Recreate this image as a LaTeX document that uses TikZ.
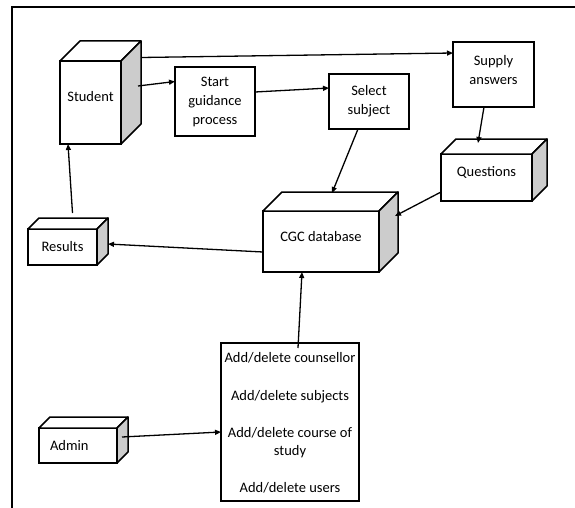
\documentclass[tikz,border=0pt]{standalone}
\usepackage{fontspec}
\setmainfont{Carlito}
\usetikzlibrary{calc,arrows.meta}
\tikzset{
  box/.style={draw, line width=1.5pt, fill=white, inner sep=2pt, outer sep=0pt, align=center, font=\fontsize{14.5}{19}\selectfont},
  lbl/.style={inner sep=0pt, align=center, font=\fontsize{14.5}{19}\selectfont},
  side/.style={draw, line width=1.5pt, fill=gray!40, line join=round},
  topf/.style={draw, line width=1.5pt, fill=white, line join=round},
  arr/.style={line width=1.3pt, -{Triangle[length=6pt,width=5pt]}},
  frame/.style={line width=1.6pt}
}
\newcommand{\cubefaces}[2]{%
  \path[topf] (#1.north west) -- ++(#2,-#2) -- ($(#1.north east)+(#2,-#2)$) -- (#1.north east) -- cycle;
  \path[side] (#1.north east) -- ++(#2,-#2) -- ($(#1.south east)+(#2,-#2)$) -- (#1.south east) -- cycle;
}
\begin{document}
\begin{tikzpicture}[x=1pt,y=-1pt]
\useasboundingbox (0,0) rectangle (575,508);
\fill[white] (0,0) rectangle (575,508);
\coordinate (fl) at (12,508);
\coordinate (ftl) at (12,7);
\coordinate (ftr) at (575,7);
\draw[frame] (fl) -- (ftl) -- (ftr);

% cubes
\node[box, minimum width=61pt, minimum height=83pt, label={[lbl, yshift=5.5pt]center:Student}] (student) at (90.5,102.5) {};
\cubefaces{student}{20}
\node[box, minimum width=91pt, minimum height=47pt, label={[lbl, yshift=5.5pt]center:Questions}] (questions) at (486.5,177.5) {};
\cubefaces{questions}{15}
\node[box, minimum width=116pt, minimum height=61pt, label={[lbl, yshift=4.5pt]center:CGC database}] (cgc) at (321,241.5) {};
\cubefaces{cgc}{19}
\node[box, minimum width=69pt, minimum height=36pt] (results) at (62.5,247) {Results};
\cubefaces{results}{11}
\node[box, minimum width=78pt, minimum height=35pt, text width=56pt, align=left] (admin) at (78,445.5) {Admin};
\cubefaces{admin}{11}

% plain boxes
\node[box, minimum width=80pt, minimum height=69pt] (start) at (215,101.5) {Start\\guidance\\process};
\node[box, minimum width=80pt, minimum height=55pt] (select) at (369,101.5) {Select\\subject};
\node[box, minimum width=81pt, minimum height=65pt, label={[lbl, yshift=4.5pt]center:Supply\\answers}] (supply) at (493.5,74.5) {};
\node[box, minimum width=138pt, minimum height=158pt] (list) at (290,422) {};
\node[lbl] (l1) at (290,358) {Add/delete counsellor};
\node[lbl] (l2) at (290,397) {Add/delete subjects};
\node[lbl] (l3) at (290,433) {Add/delete course of};
\node[lbl] (l4) at (290,452) {study};
\node[lbl] (l5) at (290,488) {Add/delete users};

% connectors
\draw[arr] ($(student.east)+(17,-16.5)$) -- ($(start.west)+(0,-20)$);
\draw[arr] ($(student.east)+(20,-45)$) -- ($(supply.west)+(0,-21.5)$);
\draw[arr] ($(start.east)+(0,-9.5)$) -- ($(select.west)+(0,-13.5)$);
\draw[arr] ($(select.south)+(-11,0)$) -- ($(cgc.north)+(11,-18)$);
\draw[arr] ($(supply.south)+(-9.5,0)$) -- ($(questions.north)+(-8.5,-11)$);
\draw[arr] ($(questions.south west)+(0,-9)$) -- ($(cgc.east)+(16,-25.5)$);
\draw[arr] ($(cgc.west)+(0,10.5)$) -- ($(results.east)+(11,-3)$);
\draw[arr] ($(results.north)+(10,-16)$) -- ($(student.south)+(-22.5,0)$);
\draw[arr] ($(list.north)+(8,5)$) -- ($(cgc.south)+(-19,0)$);
\draw[arr] ($(admin.east)+(5,-8.5)$) -- ($(list.west)+(0,10)$);
\end{tikzpicture}
\end{document}
